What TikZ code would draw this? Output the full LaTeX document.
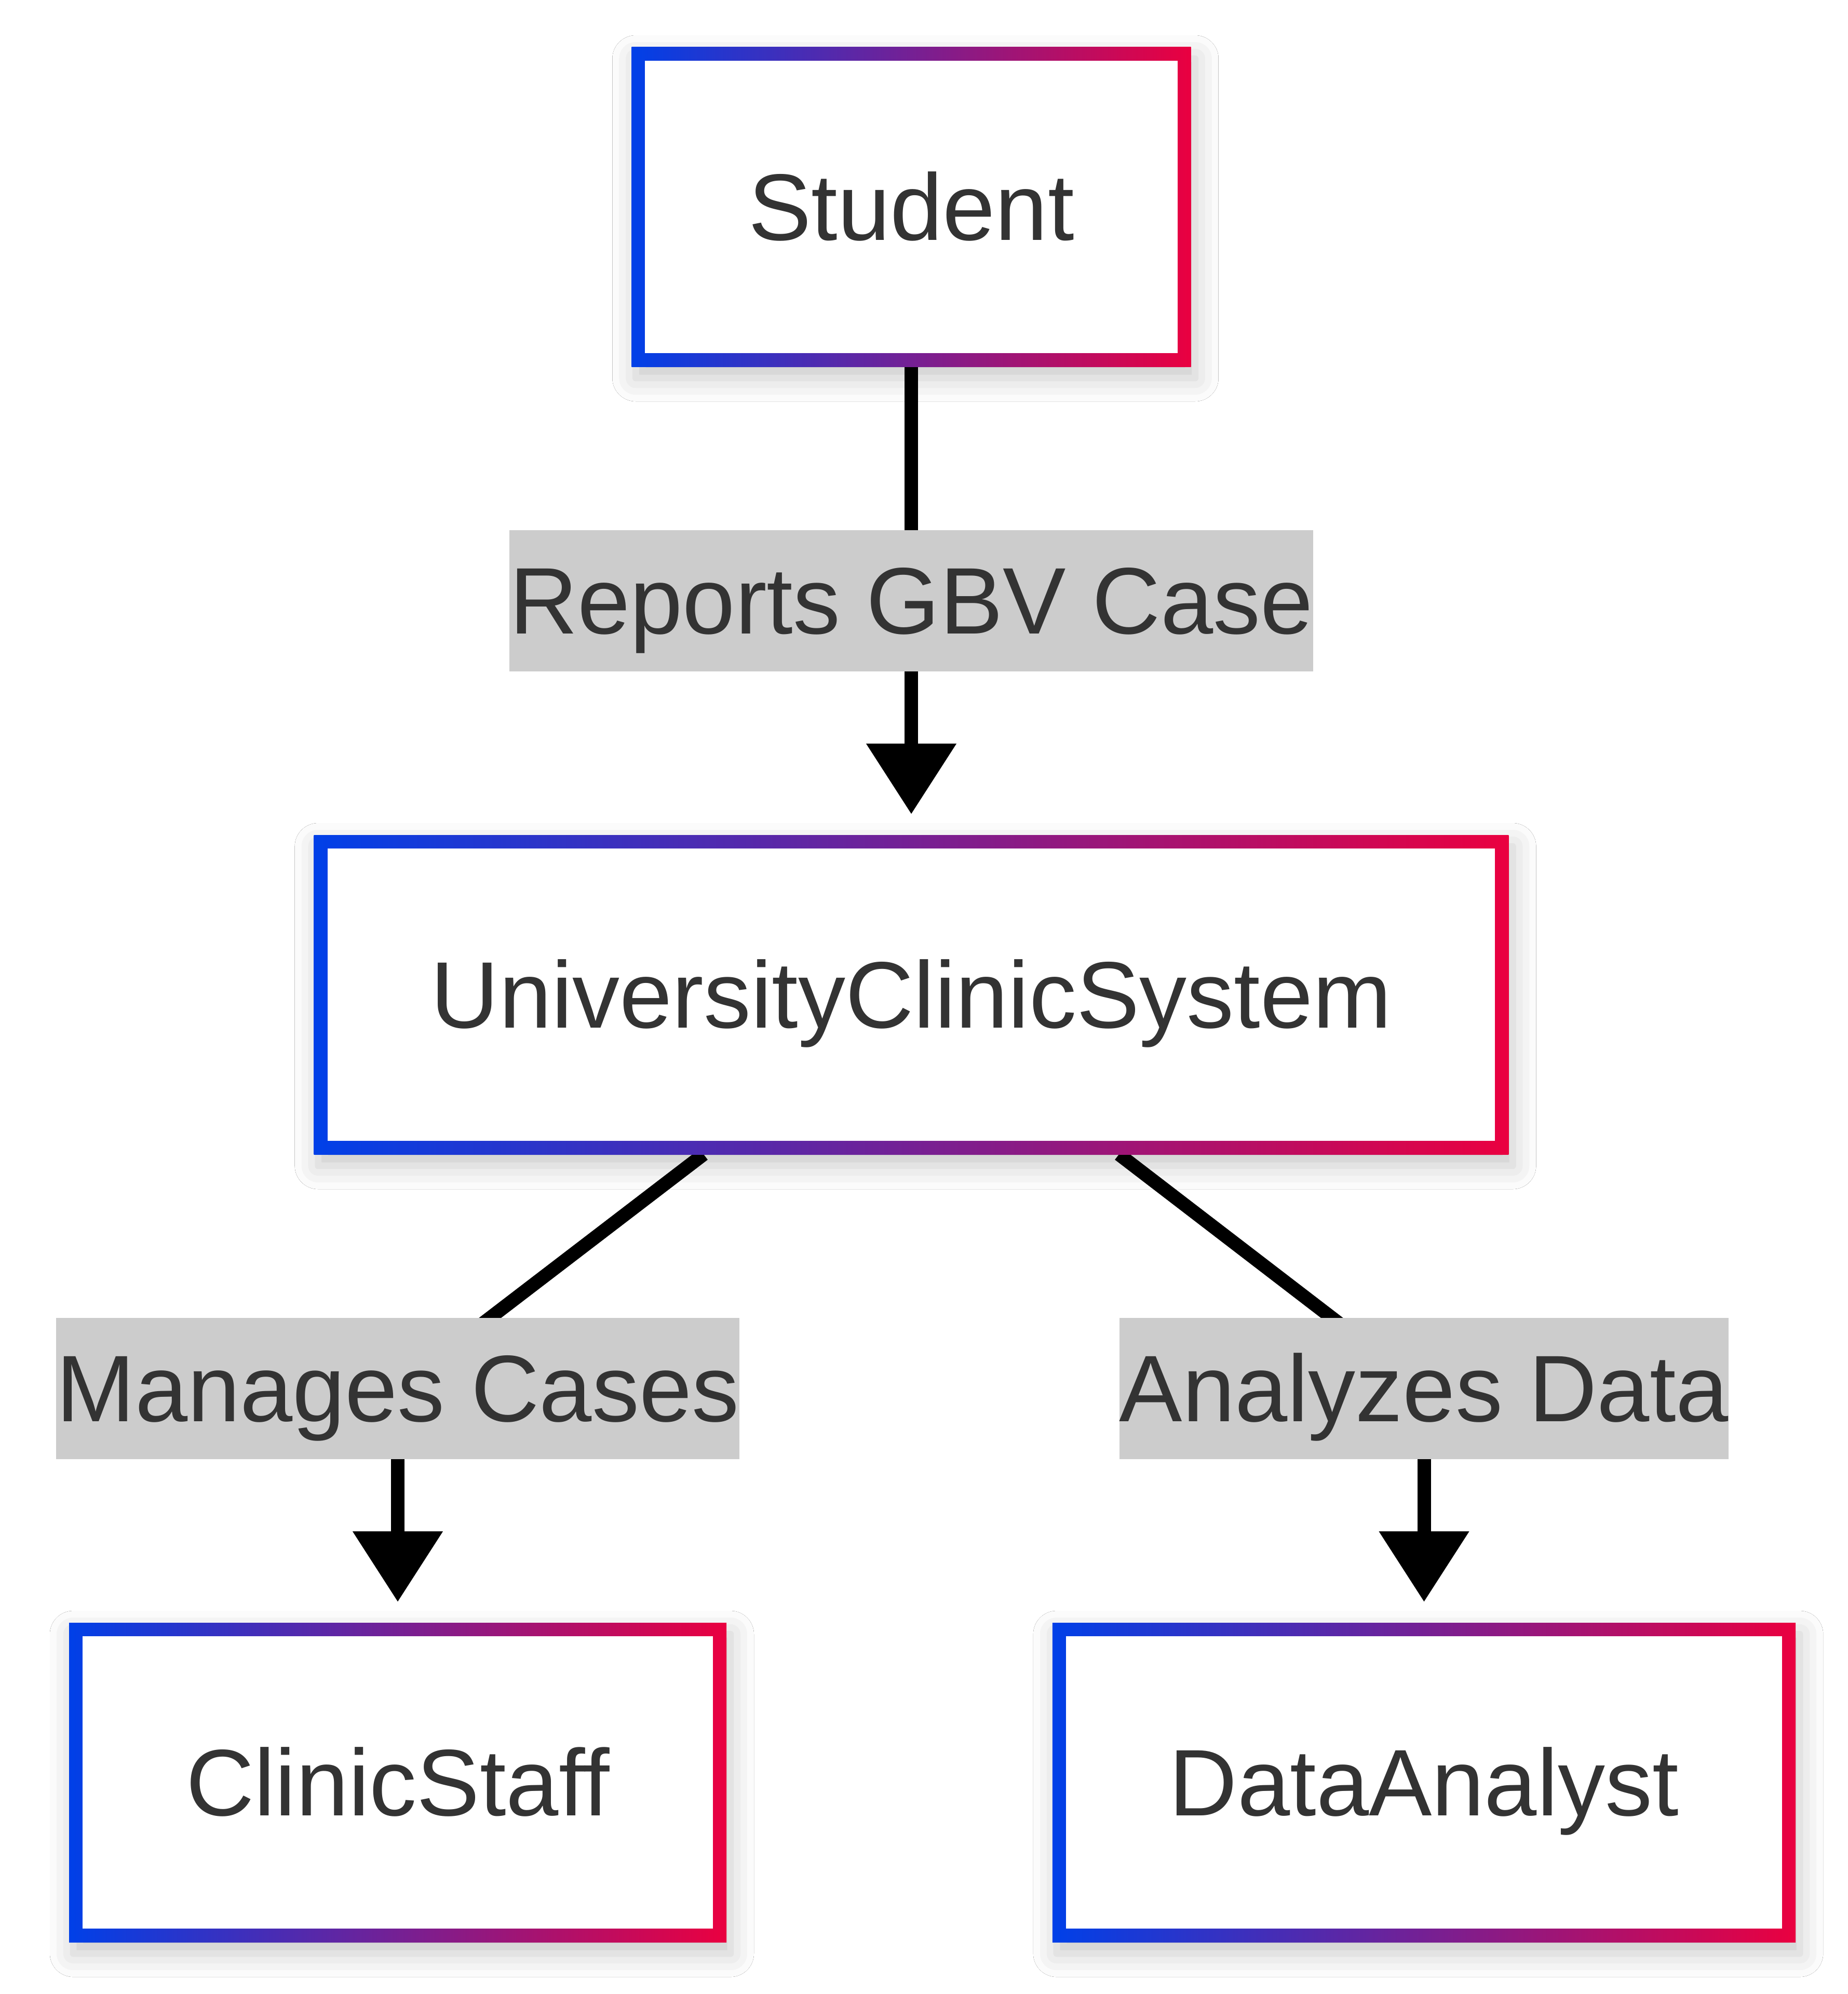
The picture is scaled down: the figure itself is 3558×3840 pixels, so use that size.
\documentclass[tikz,border=0pt]{standalone}
\usepackage{fontspec}
\setmainfont{Liberation Sans}
\usetikzlibrary{calc}
\usetikzlibrary{arrows.meta}
\usetikzlibrary{positioning}
\usetikzlibrary{backgrounds}
\usetikzlibrary{shadows.blur}

\definecolor{boxblue}{HTML}{0040E8}
\definecolor{boxred}{HTML}{EA0040}
\definecolor{labelgray}{HTML}{CCCCCC}
\definecolor{textgray}{HTML}{333333}

\tikzset{
  actor/.style={rectangle, inner xsep=225pt, inner ysep=0pt, outer sep=0pt,
    minimum height=615pt, text height=199.5pt, text depth=72.5pt,
    left color=boxblue, right color=boxred,
    blur shadow={shadow xshift=8pt, shadow yshift=-22pt, shadow blur radius=45pt, shadow opacity=22},
    path picture={\fill[white] ([xshift=26pt,yshift=-26pt]path picture bounding box.north west)
      rectangle ([xshift=-26pt,yshift=26pt]path picture bounding box.south east);},
    text=textgray, font=\fontsize{182}{218}\selectfont},
  edgelabel/.style={rectangle, fill=labelgray, inner sep=0pt, outer sep=0pt,
    text height=199.5pt, text depth=72.5pt, text=textgray, font=\fontsize{182}{218}\selectfont},
  link/.style={draw=black, line width=26pt},
  flow/.style={link, -{Triangle[width=167pt,length=136pt]}, shorten >=40pt}
}

\begin{document}
\begin{tikzpicture}[x=1pt, y=-1pt]

% boxes
\node[actor] (student) at (1755,398.5) {Student};
\node[actor, below=902pt of student] (clinic) {UniversityClinicSystem};
\node[actor] (staff) at (766,3432.5) {ClinicStaff};
\node[actor] (analyst) at (2742.5,3432.5) {DataAnalyst};

% edge labels
\coordinate (lowmid) at ($(clinic.south)!.5!(staff.north)$);
\node[edgelabel] (reports) at ($(student.south)!.5!(clinic.north)$) {Reports GBV Case};
\node[edgelabel] (manages) at (lowmid -| staff) {Manages Cases};
\node[edgelabel] (analyzes) at (lowmid -| analyst) {Analyzes Data};

\begin{scope}[on background layer]
\path[use as bounding box, fill=white] (0,0) rectangle (3558,3840);
\draw[flow] (student) -- (clinic);
\draw[link] ([xshift=-400pt]clinic.south) -- (manages.center);
\draw[flow] (manages.center) -- (staff);
\draw[link] ([xshift=400pt]clinic.south) -- (analyzes.center);
\draw[flow] (analyzes.center) -- (analyst);
\end{scope}
\end{tikzpicture}
\end{document}
